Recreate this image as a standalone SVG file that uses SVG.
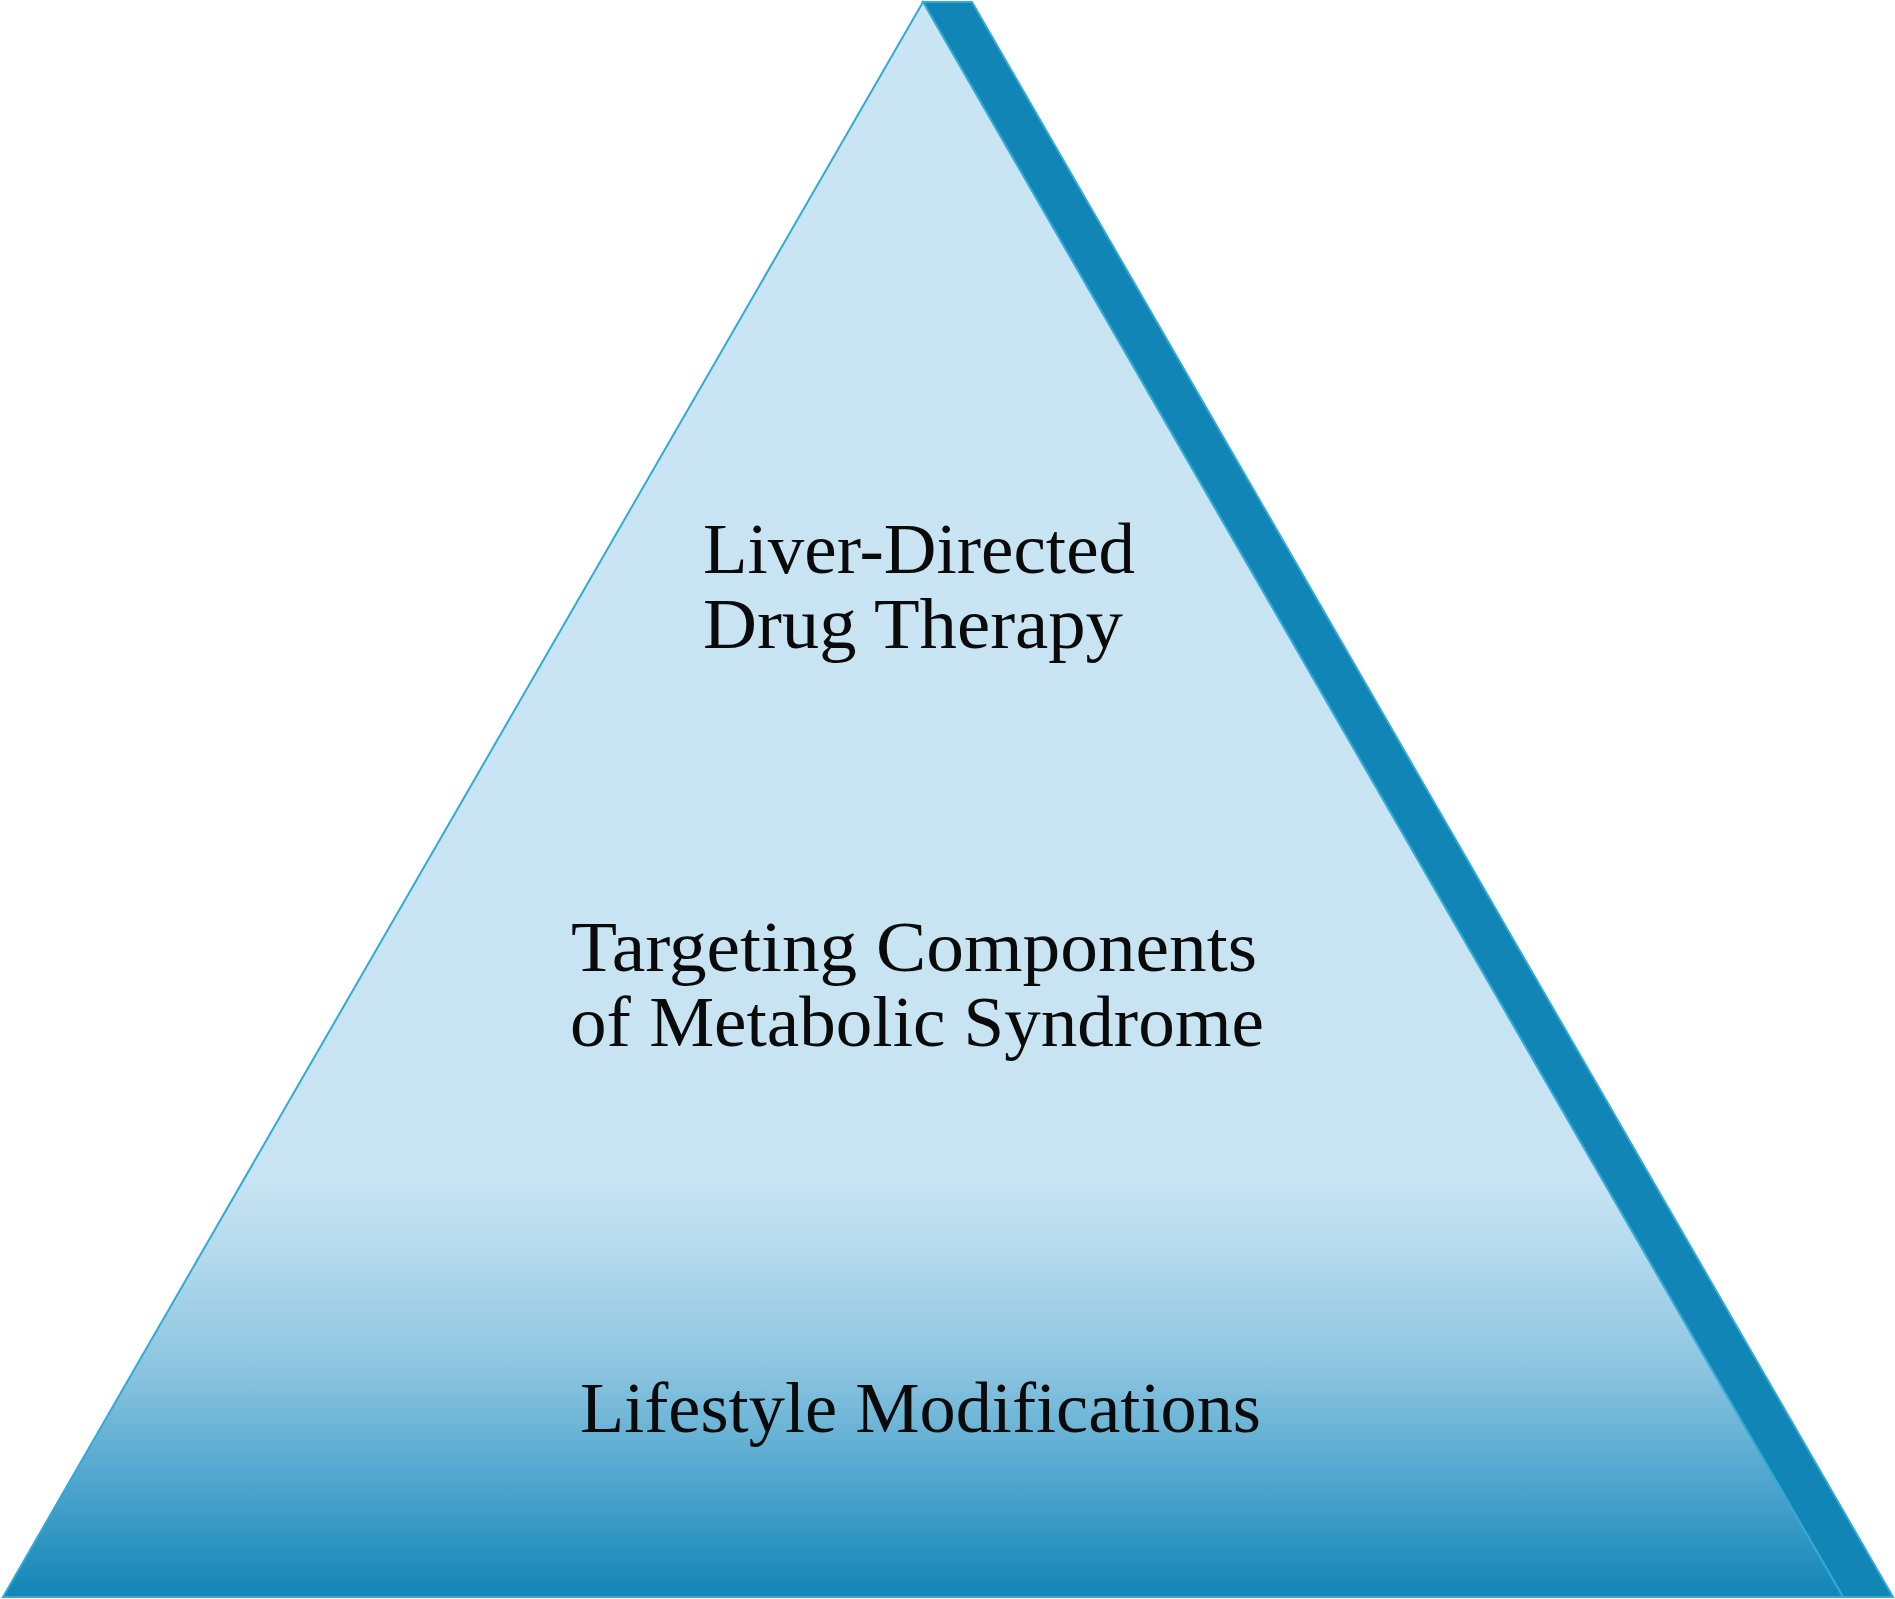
<svg xmlns="http://www.w3.org/2000/svg" width="1895" height="1599" viewBox="0 0 1895 1599">
  <style>
    .edge { stroke: #33aad6; stroke-width: 2; stroke-linejoin: miter; }
    .lbl { font-family: "Liberation Serif", "Times New Roman", serif; font-size: 71px; fill: #0a0a0a; }
  </style>
  <defs>
    <linearGradient id="frontGrad" gradientUnits="userSpaceOnUse" x1="0" y1="2" x2="0" y2="1597">
      <stop offset="0" stop-color="#c9e5f3"/>
      <stop offset="0.735" stop-color="#c8e4f3"/>
      <stop offset="0.78" stop-color="#b6dbee"/>
      <stop offset="0.855" stop-color="#8dc5e0"/>
      <stop offset="0.92" stop-color="#55a9d0"/>
      <stop offset="1" stop-color="#1285b7"/>
    </linearGradient>
  </defs>
  <rect x="0" y="0" width="1895" height="1599" fill="#ffffff"/>
  <g id="pyramid-side">
    <polygon class="edge" points="923,2 972,2 1893,1597 1843,1597" fill="#1285b7"/>
  </g>
  <g id="pyramid-front">
    <polygon class="edge" points="923,2 1843,1597 3,1597" fill="url(#frontGrad)"/>
  </g>
  <g id="connectors"/>
  <g id="level-top">
    <text class="lbl" x="703" y="573" textLength="432" lengthAdjust="spacingAndGlyphs">Liver-Directed</text>
    <text class="lbl" x="703" y="648" textLength="420" lengthAdjust="spacingAndGlyphs">Drug Therapy</text>
  </g>
  <g id="level-middle">
    <text class="lbl" x="571" y="971" textLength="686" lengthAdjust="spacingAndGlyphs">Targeting Components</text>
    <text class="lbl" x="570" y="1046" textLength="694" lengthAdjust="spacingAndGlyphs">of Metabolic Syndrome</text>
  </g>
  <g id="level-bottom">
    <text class="lbl" x="580" y="1432" textLength="681" lengthAdjust="spacingAndGlyphs">Lifestyle Modifications</text>
  </g>
</svg>
